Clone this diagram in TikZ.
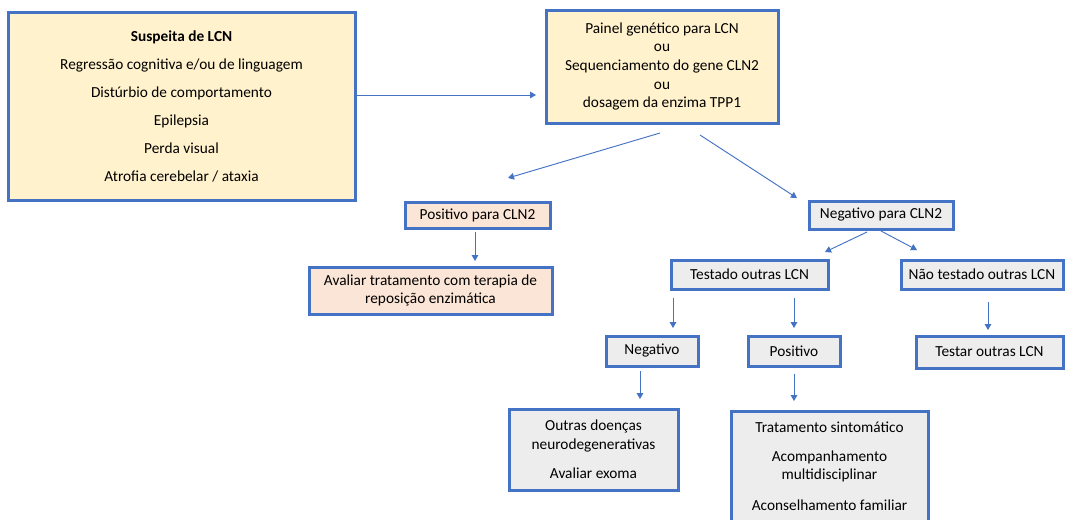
\documentclass[tikz,border=0pt]{standalone}
\usepackage{fontspec}
\setmainfont{Carlito}
\usetikzlibrary{arrows.meta}
\definecolor{bblue}{HTML}{4472C4}
\definecolor{fyellow}{HTML}{FFF2CC}
\definecolor{fpink}{HTML}{FBE5D6}
\definecolor{fgray}{HTML}{EDEDED}
\tikzset{
  box/.style={draw=bblue, line width=2.25pt, inner sep=0pt, align=center,
    font=\fontsize{11.5}{14}\selectfont, text=black},
  ybox/.style={box, fill=fyellow},
  pbox/.style={box, fill=fpink},
  gbox/.style={box, fill=fgray},
  arr/.style={draw=bblue, line width=0.7pt, -{Triangle[width=5pt,length=4.5pt]}}
}
\begin{document}
\begin{tikzpicture}[x=0.75pt,y=-0.75pt]
\clip (0,0) rectangle (1065,519);
\fill[white] (0,0) rectangle (1065,519);
% boxes
\node[ybox, minimum width=260.25pt, minimum height=141pt] (S) at (181.5,106)
  {\textbf{Suspeita de LCN}\\[7pt]Regressão cognitiva e/ou de linguagem\\[7pt]Distúrbio de comportamento\\[7pt]Epilepsia\\[7pt]Perda visual\\[7pt]Atrofia cerebelar / ataxia};
\node[ybox, minimum width=174pt, minimum height=84.75pt] (P) at (662,66.5)
  {Painel genético para LCN\\ou\\Sequenciamento do gene CLN2\\ou\\dosagem da enzima TPP1};
\node[pbox, minimum width=108.75pt, minimum height=19.5pt] (Pos) at (477.5,215) {Positivo para CLN2};
\node[pbox, minimum width=182.25pt, minimum height=35.25pt] (Av) at (430.5,290.5)
  {Avaliar tratamento com terapia de\\reposição enzimática};
\node[gbox, minimum width=108pt, minimum height=21pt] (Neg) at (881,215) {Negativo para CLN2};
\node[gbox, minimum width=117.75pt, minimum height=21.75pt] (Test) at (749.5,274.5) {Testado outras LCN};
\node[gbox, minimum width=121.5pt, minimum height=21.75pt] (Nao) at (982,274.5) {Não testado outras LCN};
\node[gbox, minimum width=69pt, minimum height=22.5pt] (Neg2) at (652,351) {Negativo};
\node[gbox, minimum width=69pt, minimum height=22.5pt] (Pos2) at (794,351) {Positivo};
\node[gbox, minimum width=110.25pt, minimum height=24pt] (Testar) at (989.5,352) {Testar outras LCN};
\node[gbox, minimum width=126.75pt, minimum height=60.75pt] (Outras) at (593.5,449.5)
  {Outras doenças\\neurodegenerativas\\[8pt]Avaliar exoma};
\node[gbox, minimum width=147.75pt, minimum height=82.5pt] (Trat) at (829.5,466)
  {Tratamento sintomático\\[7.75pt]Acompanhamento\\multidisciplinar\\[9pt]Aconselhamento familiar};
% connector endpoints
\coordinate (a1) at (357,95);   \coordinate (b1) at (536,95);
\coordinate (a2) at (660,133);  \coordinate (b2) at (508,178);
\coordinate (a3) at (700,135);  \coordinate (b3) at (797,198);
\coordinate (a4) at (475,232);  \coordinate (b4) at (475,261);
\coordinate (a5) at (867,232);  \coordinate (b5) at (825,252);
\coordinate (a6) at (881,231);  \coordinate (b6) at (917,250);
\coordinate (a7) at (673,298);  \coordinate (b7) at (673,328);
\coordinate (a8) at (794,298);  \coordinate (b8) at (794,328);
\coordinate (a9) at (988,302);  \coordinate (b9) at (988,330);
\coordinate (a10) at (640,371); \coordinate (b10) at (640,399);
\coordinate (a11) at (794,374); \coordinate (b11) at (794,401);
\foreach \i in {1,...,11} \draw[arr] (a\i) -- (b\i);
\end{tikzpicture}
\end{document}
